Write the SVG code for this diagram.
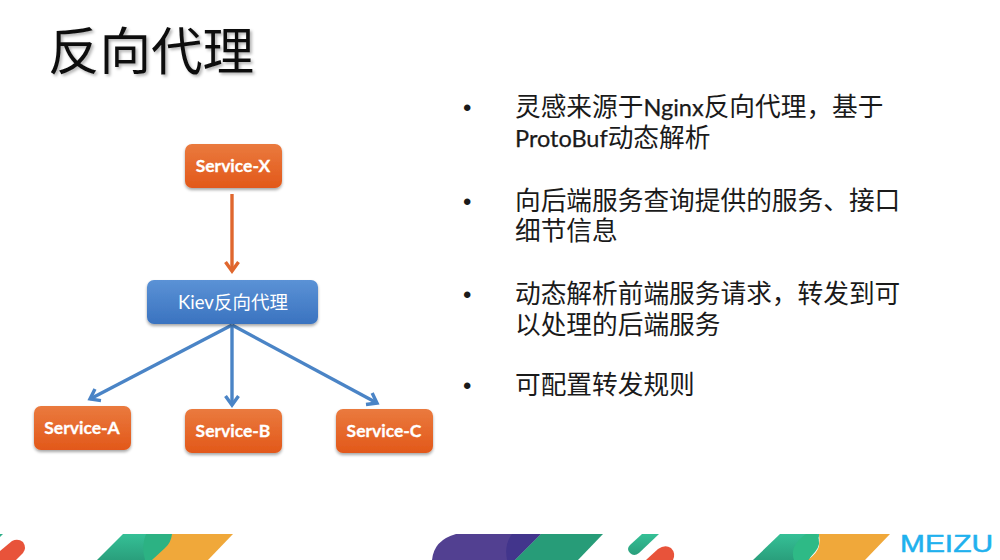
<svg xmlns="http://www.w3.org/2000/svg" width="1000" height="560" viewBox="0 0 1000 560">
<defs>
<linearGradient id="org" x1="0" y1="0" x2="0" y2="1"><stop offset="0" stop-color="#ea7a3e"/><stop offset="1" stop-color="#e2581a"/></linearGradient>
<linearGradient id="blu" x1="0" y1="0" x2="0" y2="1"><stop offset="0" stop-color="#5b92d6"/><stop offset="1" stop-color="#3a73c0"/></linearGradient>
<linearGradient id="grn" x1="0" y1="0" x2="0" y2="1"><stop offset="0" stop-color="#35c096"/><stop offset="1" stop-color="#2a9f7c"/></linearGradient>
<filter id="sh" x="-10%" y="-10%" width="120%" height="130%"><feDropShadow dx="0" dy="2" stdDeviation="1.5" flood-color="#000" flood-opacity="0.35"/></filter>
<filter id="ts" x="-5%" y="-5%" width="115%" height="115%"><feDropShadow dx="2" dy="2" stdDeviation="1.5" flood-color="#000" flood-opacity="0.3"/></filter>
<marker id="ao" markerUnits="userSpaceOnUse" markerWidth="18" markerHeight="18" refX="14" refY="9" orient="auto"><path d="M5 2.5 L14 9 L5 15.5" fill="none" stroke="#e0672e" stroke-width="3.4"/></marker>
<marker id="ab" markerUnits="userSpaceOnUse" markerWidth="18" markerHeight="18" refX="14" refY="9" orient="auto"><path d="M5 2.5 L14 9 L5 15.5" fill="none" stroke="#4a84c6" stroke-width="3.4"/></marker>
</defs>
<style>
text{font-family:Lato,"Noto Sans CJK SC",sans-serif}
.n{fill:#fff;stroke:#fff;stroke-width:.3px;font-size:17.5px;font-weight:700;text-anchor:middle}
.b{fill:#1a1a1a;font-size:25.7px}
.l{font-size:23.5px;stroke:#1a1a1a;stroke-width:.25px}
.d{fill:#1a1a1a;font-size:24px;font-family:"Liberation Sans",sans-serif}
.o{fill:url(#org);filter:url(#sh)}
</style>
<rect width="1000" height="560" fill="#fff"/>
<text x="48" y="70" font-size="51.5" fill="#111" filter="url(#ts)">反向代理</text>
<g id="bullets">
<text class="d" x="463" y="116">•</text>
<text class="b" x="515" y="116">灵感来源于<tspan class="l">Nginx</tspan>反向代理，基于</text>
<text class="b" x="515" y="147"><tspan class="l">ProtoBuf</tspan>动态解析</text>
<text class="d" x="463" y="210">•</text>
<text class="b" x="515" y="210">向后端服务查询提供的服务、接口</text>
<text class="b" x="515" y="240">细节信息</text>
<text class="d" x="463" y="303">•</text>
<text class="b" x="515" y="303">动态解析前端服务请求，转发到可</text>
<text class="b" x="515" y="334">以处理的后端服务</text>
<text class="d" x="463" y="394">•</text>
<text class="b" x="515" y="394">可配置转发规则</text>
</g>
<g id="connectors" fill="none" stroke-width="3.4">
<line x1="232" y1="194" x2="232" y2="271" stroke="#e0672e" marker-end="url(#ao)"/>
<line x1="232" y1="325" x2="90" y2="399" stroke="#4a84c6" marker-end="url(#ab)"/>
<line x1="232" y1="325" x2="232" y2="405" stroke="#4a84c6" marker-end="url(#ab)"/>
<line x1="232" y1="325" x2="377" y2="403" stroke="#4a84c6" marker-end="url(#ab)"/>
</g>
<g id="service-x"><rect class="o" x="185" y="144" width="97" height="44" rx="7"/><text class="n" x="233" y="172">Service-X</text></g>
<g id="kiev"><rect x="147" y="280" width="171" height="44" rx="7" fill="url(#blu)" filter="url(#sh)"/><text x="233" y="309" fill="#fff" font-size="18.5" text-anchor="middle">Kiev反向代理</text></g>
<g id="service-a"><rect class="o" x="34" y="406" width="97" height="44" rx="7"/><text class="n" x="82" y="434">Service-A</text></g>
<g id="service-b"><rect class="o" x="185" y="409" width="97" height="44" rx="7"/><text class="n" x="233" y="437">Service-B</text></g>
<g id="service-c"><rect class="o" x="336" y="409" width="97" height="44" rx="7"/><text class="n" x="384" y="437">Service-C</text></g>
<g id="footer">
<path d="M0 534H3L0 537Z" fill="#2fb08a"/>
<path d="M0 551 L12 541 Q18 538 23 542 Q27 548 23 553 L16 560 H0Z" fill="#e8533a"/>
<path d="M123 534H172L152 560H97Z" fill="url(#grn)"/>
<path d="M172 534H233L208 560H152Z" fill="#f0a83a"/>
<path d="M146 534H172Q171 543 165 548L152 560H145Q141 546 146 534Z" fill="#2cb283"/>
<path d="M432 560Q434 540 456 534H541L515 560Z" fill="#524091"/>
<path d="M512 534H541L515 560H507Q504 544 512 534Z" fill="#42358c"/>
<path d="M541 534H603L578 560H515Z" fill="#279c78"/>
<path d="M646 534H659L639 553Q634 557 630 553Q626 549 630 545L642 534Z" fill="url(#grn)"/>
<path d="M646 560L658 549Q665 544 671 548Q676 553 673 560Z" fill="#e8533a"/>
<path d="M780 534H820L809 560H753Z" fill="url(#grn)"/>
<path d="M819 534H890L865 560H808Q818 552 819 546Q820 539 819 534Z" fill="#f0a83a"/>
<path d="M806 534H817Q822 544 815 552L808 560H794Q789 546 806 534Z" fill="#2eba86"/>
<text x="900" y="552" font-size="23.5" fill="#1fb1ee" stroke="#1fb1ee" stroke-width="0.5" textLength="93" lengthAdjust="spacingAndGlyphs" style="font-family:'Liberation Sans',sans-serif">MEIZU</text>
</g>
</svg>
